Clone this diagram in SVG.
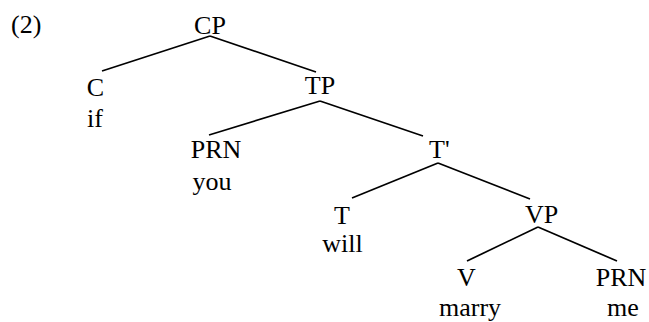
<svg xmlns="http://www.w3.org/2000/svg" width="649" height="322" viewBox="0 0 649 322">
<style>
.t{font-family:'Liberation Serif','Times New Roman',serif;font-size:26px;fill:#000}
.m{text-anchor:middle}
.e{stroke:#000;stroke-width:1.7;fill:none}
</style>
<rect width="649" height="322" fill="#fff"/>
<g class="t">
<text x="11" y="33">(2)</text>
</g>
<g id="connectors">
<line class="e" x1="210" y1="36" x2="102" y2="71"/>
<line class="e" x1="210" y1="36" x2="316" y2="72"/>
<line class="e" x1="320" y1="101" x2="209" y2="135"/>
<line class="e" x1="320" y1="101" x2="423" y2="136"/>
<line class="e" x1="438" y1="163" x2="352" y2="198"/>
<line class="e" x1="438" y1="163" x2="530" y2="199"/>
<line class="e" x1="538" y1="227" x2="467" y2="261"/>
<line class="e" x1="538" y1="227" x2="617" y2="261"/>
</g>
<g class="t">
<g id="CP"><text class="m" x="210" y="34">CP</text></g>
<g id="C"><text class="m" x="95.5" y="96">C</text><text class="m" x="95" y="127">if</text></g>
<g id="TP"><text class="m" x="320" y="94">TP</text></g>
<g id="PRN1"><text class="m" x="216" y="158">PRN</text><text class="m" x="212" y="190">you</text></g>
<g id="Tbar"><text x="429" y="158">T'</text></g>
<g id="T"><text class="m" x="342" y="224">T</text><text class="m" x="342.5" y="252">will</text></g>
<g id="VP"><text class="m" x="541.5" y="223">VP</text></g>
<g id="V"><text class="m" x="466.5" y="286">V</text><text class="m" x="470" y="316">marry</text></g>
<g id="PRN2"><text class="m" x="621" y="286">PRN</text><text class="m" x="623" y="316">me</text></g>
</g>
</svg>
